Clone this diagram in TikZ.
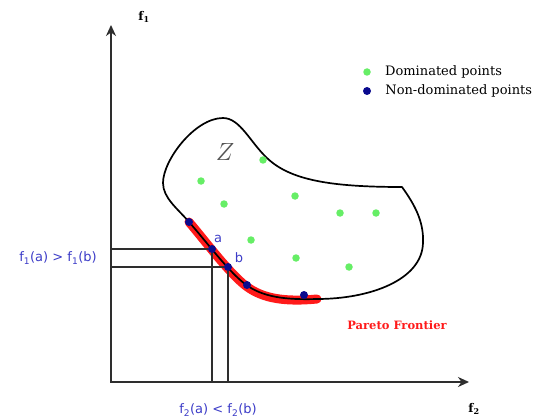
\documentclass[tikz,border=0pt]{standalone}
\usepackage{fontspec}
\usepackage{xcolor}
\usepackage{tikz}
\usetikzlibrary{arrows.meta,positioning}
\newfontfamily\pfSerif{DejaVu Serif}
\newfontfamily\pfSans{DejaVu Sans}
\definecolor{pfAxis}{HTML}{2E2E2E}
\definecolor{pfGreen}{HTML}{66EE66}
\definecolor{pfBlue}{HTML}{0A0A8E}
\definecolor{pfLabel}{HTML}{3C3CC8}
\definecolor{pfRed}{HTML}{FF1A1A}
\definecolor{pfZ}{HTML}{555555}
\tikzset{
  dompt/.style={circle,fill=pfGreen,inner sep=0pt,minimum size=7.5pt},
  ndompt/.style={circle,fill=pfBlue,inner sep=0pt,minimum size=8pt},
  axisline/.style={draw=pfAxis,line width=2pt,{Stealth[length=11pt,width=10pt]}-{Stealth[length=11pt,width=10pt]}},
  guide/.style={draw=pfAxis,line width=1.4pt},
  cmplabel/.style={text=pfLabel,font=\pfSans\fontsize{13}{15}\selectfont,inner sep=0pt},
  legtext/.style={font=\pfSerif\fontsize{13}{15}\selectfont,inner sep=0pt,anchor=west},
}

\begin{document}
\begin{tikzpicture}[x=1pt,y=-1pt]
  \useasboundingbox[fill=white] (0,0) rectangle (539,420);
  \coordinate (o) at (111,382);
  \coordinate (ytip) at (111,25);
  \coordinate (xtip) at (469,382);
  \coordinate (fa) at (189,222);
  \coordinate (fb) at (317,299);

  \draw[axisline] (ytip) -- (o) -- (xtip);
  \node[font=\pfSerif\bfseries\fontsize{12}{14}\selectfont,inner sep=0pt] (f1) at (144,17) {f\textsubscript{1}};
  \node[font=\pfSerif\bfseries\fontsize{12}{14}\selectfont,inner sep=0pt] (f2) at (474,409) {f\textsubscript{2}};

  \draw[pfRed,line width=9pt,line cap=round,shift={(1,2)}] (fa) .. controls (205,240) and (228,271) .. (245,284)
        .. controls (262,297) and (285,300) .. (fb);
  \draw[black,line width=1.7pt,line join=round] (402,187) .. controls (415,205) and (424,222) .. (423,243)
        .. controls (422,280) and (370,299) .. (fb) .. controls (285,300) and (262,297) .. (245,284)
        .. controls (228,271) and (205,240) .. (fa) .. controls (178,209) and (163,198) .. (163,183)
        .. controls (163,160) and (195,118) .. (223,118) .. controls (240,118) and (250,142) .. (267,158)
        .. controls (290,180) and (330,187) .. cycle;

  \node[text=pfZ,font=\fontsize{32}{36}\selectfont,inner sep=0pt] (zlab) at (225,152) {$Z$};

  \foreach \x/\y [count=\i] in {263/160,201/181,224/204,295/196,340/213,376/213,251/240,296/258,349/267}
    \node[dompt] (d\i) at (\x,\y) {};

  \node[ndompt] (n1) at (fa) {};
  \node[ndompt] (a) at (212,249) {};
  \node[ndompt] (b) at (228,267) {};
  \node[ndompt] (n2) at (247,285) {};
  \node[ndompt] (n3) at (304,295) {};

  \draw[guide] (a) -- (a -| o);
  \draw[guide] (a) -- (a |- o);
  \draw[guide] (b) -- (b -| o);
  \draw[guide] (b) -- (b |- o);

  \node[cmplabel] (alab) at (218,239) {a};
  \node[cmplabel] (blab) at (239,258) {b};
  \node[cmplabel] (f1cmp) at (58,258) {f\textsubscript{1}(a) > f\textsubscript{1}(b)};
  \node[cmplabel] (f2cmp) at (218,410) {f\textsubscript{2}(a) < f\textsubscript{2}(b)};

  \node[text=pfRed,font=\pfSerif\bfseries\fontsize{11.5}{13}\selectfont,inner sep=0pt] (pareto) at (397,325) {Pareto Frontier};

  \node[dompt] (legdom) at (367,72) {};
  \node[legtext,right=14pt of legdom] (legdomtxt) {Dominated points};
  \node[ndompt] (legnd) at (367,91) {};
  \node[legtext,right=14pt of legnd] (legndtxt) {Non-dominated points};
\end{tikzpicture}
\end{document}
